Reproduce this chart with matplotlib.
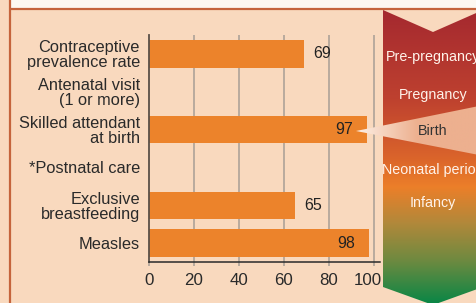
import matplotlib
matplotlib.use("Agg")
import matplotlib.pyplot as plt
import matplotlib.transforms as mtransforms
import numpy as np
from matplotlib.patches import Polygon
from matplotlib.colors import LinearSegmentedColormap, to_rgb

plt.rcParams['font.family'] = ['Liberation Sans', 'DejaVu Sans']

categories = ["Contraceptive\nprevalence rate", "Antenatal visit\n(1 or more)",
              "Skilled attendant\nat birth", "*Postnatal care",
              "Exclusive\nbreastfeeding", "Measles"]
values = [69, None, 97, None, 65, 98]
xticks = [0, 20, 40, 60, 80, 100]
stages = ["Pre-pregnancy", "Pregnancy", "Birth", "Neonatal period", "Infancy"]

W, H = 477, 303
PEACH = "#F9D9BE"
BAR = "#EC832B"
BORDER = "#C5643C"

fig = plt.figure(figsize=(W / 100, H / 100), dpi=100, facecolor=PEACH)

# background layer (pixel coordinates)
bg = fig.add_axes([0, 0, 1, 1], zorder=0)
bg.set_xlim(0, W); bg.set_ylim(H, 0); bg.axis("off")
bg.add_patch(plt.Rectangle((10, 0), W, 9, color="#FDF8F1", lw=0))
bg.plot([10, W], [9, 9], color=BORDER, lw=1.6, solid_capstyle="butt")
bg.plot([10, 10], [0, H], color=BORDER, lw=1.6, solid_capstyle="butt")

# bar chart
x0, x1, y_top, y_bot = 149, 380, 35, 262
ax = fig.add_axes([x0 / W, (H - y_bot) / H, (x1 - x0) / W, (y_bot - y_top) / H], zorder=1)
ax.set_facecolor("none")
xmax = 100 * (x1 - x0) / (374 - x0)
ax.set_xlim(0, xmax)
ax.set_ylim(5.5, -0.5)
ypos = np.arange(len(categories))
for x in xticks[1:]:
    ax.axvline(x, color="#A89D95", lw=1.1, zorder=0)
for i, v in enumerate(values):
    if v is None:
        continue
    ax.barh(i, v, height=0.72, color=BAR, zorder=2)
    if v >= 90:
        ax.text(v - 6.5, i, str(v), ha="right", va="center", fontsize=11.5, color="#222222", zorder=3)
    else:
        ax.text(v + 3.8, i, str(v), ha="left", va="center", fontsize=11.5, color="#222222", zorder=3)
ax.set_yticks(ypos)
ax.set_yticklabels(categories, fontsize=11.8, color="#2a2a2a", linespacing=1.0)
ax.tick_params(axis="y", length=0, pad=6.5)
ax.set_xticks(xticks)
ax.set_xticklabels([str(t) for t in xticks], fontsize=12.2, color="#2a2a2a")
ax.tick_params(axis="x", length=3, color="#A89D95", width=1.1, pad=5)
last = ax.get_xticklabels()[-1]
last.set_transform(last.get_transform() + mtransforms.ScaledTranslation(-6 / 100, 0, fig.dpi_scale_trans))
for s in ["top", "right"]:
    ax.spines[s].set_visible(False)
ax.spines["left"].set_color("#5a5048")
ax.spines["left"].set_linewidth(1.3)
ax.spines["bottom"].set_color("#2a2a2a")
ax.spines["bottom"].set_linewidth(1.1)

# overlay layer
ov = fig.add_axes([0, 0, 1, 1], zorder=2)
ov.set_xlim(0, W); ov.set_ylim(H, 0); ov.axis("off")
ov.patch.set_alpha(0)

stops = [(0.0, "#A5292F"), (0.3, "#BE412F"), (0.5, "#DA642B"), (0.6, "#EC7F29"),
         (0.72, "#B3883A"), (0.85, "#6E8A40"), (1.0, "#078646")]
cmap = LinearSegmentedColormap.from_list("stage", stops)
grad = np.linspace(0, 1, 256).reshape(-1, 1)
pl, pc, pr = 383, 433, 483
panel = Polygon([(pl, 10), (pc, 32), (pr, 10), (pr, 287), (pc, 305), (pl, 287)],
                closed=True, transform=ov.transData, facecolor="none", edgecolor="none")
ov.add_patch(panel)
im = ov.imshow(grad, cmap=cmap, aspect="auto", extent=[pl, pr, 305, 10], zorder=1)
im.set_clip_path(panel)

# Birth callout triangle
tri = Polygon([(356, 131), (W + 2, 106), (W + 2, 155)], closed=True,
              transform=ov.transData, facecolor="none", edgecolor="none")
ov.add_patch(tri)
c0, c1 = np.array(to_rgb("#FDF0E6")), np.array(to_rgb("#EDB08F"))
t = np.clip(np.linspace(0, 1, 200) * 2.0, 0, 1)
tg = (c0[None, :] * (1 - t[:, None]) + c1[None, :] * t[:, None])[None, :, :]
im2 = ov.imshow(tg, aspect="auto", extent=[356, W + 2, 155, 106], zorder=2)
im2.set_clip_path(tri)

ov.set_xlim(0, W); ov.set_ylim(H, 0)

stage_y = [57, 95, 131, 170, 203]
for s, y in zip(stages, stage_y):
    col = "#333333" if s == "Birth" else "#FFF3EA"
    ov.text(pc, y, s, ha="center", va="center", fontsize=10.3, color=col, zorder=3)

fig.savefig("out.png", dpi=100, facecolor=PEACH)
